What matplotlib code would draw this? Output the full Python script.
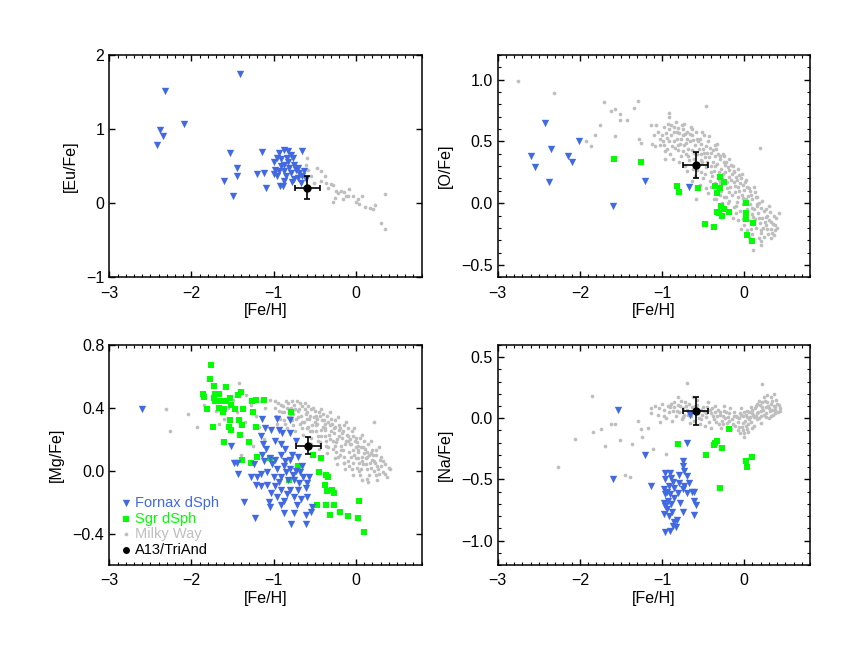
import numpy as np
import matplotlib
matplotlib.use("Agg")
import matplotlib.pyplot as plt
from matplotlib.ticker import MultipleLocator, FuncFormatter

plt.rcParams['font.family'] = ['Liberation Sans', 'DejaVu Sans']

FORNAX_C = '#4169e1'
SGR_C = '#00ff00'
MW_C = '#bebebe'

# ---------------- [Eu/Fe] ----------------
eu_fornax = [(-2.32, 1.51), (-1.41, 1.74), (-2.09, 1.07), (-2.38, 0.99), (-2.35, 0.90),
             (-2.42, 0.79), (-1.53, 0.68), (-1.45, 0.47), (-1.45, 0.36), (-1.60, 0.30),
             (-1.49, 0.10), (-1.14, 0.69), (-1.20, 0.40), (-1.12, 0.41), (-1.09, 0.20),
             (-1.00, 0.55), (-0.93, 0.68), (-0.88, 0.72), (-0.83, 0.70), (-0.79, 0.65),
             (-0.66, 0.70), (-0.98, 0.45), (-0.96, 0.36), (-0.92, 0.23), (-0.89, 0.23),
             (-0.91, 0.50), (-0.87, 0.52), (-0.83, 0.55), (-0.88, 0.43), (-0.85, 0.36),
             (-0.79, 0.41), (-0.75, 0.52), (-0.73, 0.45), (-0.69, 0.41), (-0.71, 0.34),
             (-0.65, 0.36), (-0.61, 0.32), (-0.67, 0.27), (-0.78, 0.28), (-1.00, 0.39),
             (-0.93, 0.43), (-0.81, 0.48), (-0.91, 0.59), (-0.77, 0.61), (-0.96, 0.61),
             (-0.84, 0.61), (-0.71, 0.48), (-0.63, 0.43), (-0.75, 0.32), (-0.87, 0.30)]
eu_mw = [(-0.60, 0.61), (-0.61, 0.52), (-0.58, 0.45), (-0.47, 0.48), (-0.42, 0.43),
         (-0.38, 0.36), (-0.36, 0.27), (-0.30, 0.26), (-0.28, 0.24), (-0.34, 0.20),
         (-0.24, 0.16), (-0.22, 0.14), (-0.18, 0.17), (-0.15, 0.15), (-0.12, 0.09),
         (-0.08, 0.19), (-0.09, 0.10), (-0.04, 0.09), (0.00, 0.01), (0.02, 0.05),
         (0.04, -0.01), (0.07, 0.09), (-0.28, 0.02), (-0.26, 0.07), (-0.16, 0.05),
         (0.11, -0.05), (0.17, -0.07), (0.21, -0.08), (0.23, -0.02), (0.30, -0.27),
         (0.36, -0.35), (0.36, 0.12), (-0.55, 0.36), (-0.51, 0.27), (-0.42, 0.30)]
eu_a13 = (-0.59, 0.21, 0.15, 0.16)

# ---------------- [O/Fe] ----------------
o_fornax = [(-2.59, 0.38), (-2.55, 0.29), (-2.42, 0.65), (-2.35, 0.44), (-2.38, 0.17),
            (-2.14, 0.38), (-2.09, 0.33), (-2.01, 0.50), (-1.21, 0.18), (-1.60, -0.02),
            (-0.67, 0.13)]
o_sgr = [(-1.58, 0.36), (-1.26, 0.33), (-0.82, 0.14), (-0.79, 0.09), (-0.56, 0.12),
         (-0.29, 0.21), (-0.24, 0.17), (-0.36, 0.14), (-0.30, 0.12), (-0.33, 0.08),
         (-0.28, -0.02), (-0.33, -0.07), (-0.31, -0.08), (-0.27, -0.10), (-0.24, -0.05),
         (-0.19, -0.07), (-0.48, -0.17), (-0.37, -0.19), (0.02, 0.00), (0.02, -0.08),
         (0.02, -0.13), (0.11, -0.16), (0.04, -0.26), (0.09, -0.31)]
o_mw = [(-2.75, 0.99), (-2.31, 0.89), (-1.92, 0.50), (-1.86, 0.46), (-1.82, 0.55),
        (-1.75, 0.63), (-1.70, 0.82), (-1.62, 0.75), (-1.57, 0.76), (-1.51, 0.72),
        (-1.51, 0.67), (-1.43, 0.67), (-1.57, 0.54), (-1.34, 0.77), (-1.29, 0.83),
        (-1.28, 0.52), (-1.26, 0.49), (-1.14, 0.63), (-1.12, 0.48), (-1.09, 0.46),
        (-1.02, 0.47), (-0.96, 0.36), (-0.91, 0.73), (-0.91, 0.70), (-0.46, 0.79),
        (0.19, 0.45), (0.42, -0.08), (0.11, -0.38), (0.20, -0.34), (-0.59, 0.03),
        (-1.05, 0.58), (-1.02, 0.52), (-0.98, 0.62), (-0.97, 0.47), (-1.00, 0.55),
        (-0.95, 0.57), (-0.96, 0.42),
        (-0.93, 0.64), (-0.91, 0.60), (-0.89, 0.55), (-0.92, 0.50), (-0.88, 0.46),
        (-0.90, 0.40), (-0.86, 0.62), (-0.87, 0.36), (-0.94, 0.53), (-0.85, 0.58),
        (-0.83, 0.66), (-0.81, 0.61), (-0.79, 0.57), (-0.82, 0.52), (-0.78, 0.48),
        (-0.80, 0.43), (-0.77, 0.38), (-0.84, 0.45), (-0.76, 0.63), (-0.79, 0.33),
        (-0.82, 0.58), (-0.75, 0.55),
        (-0.74, 0.60), (-0.72, 0.56), (-0.70, 0.52), (-0.73, 0.47), (-0.68, 0.44),
        (-0.71, 0.40), (-0.67, 0.35), (-0.69, 0.58), (-0.66, 0.50), (-0.72, 0.30),
        (-0.70, 0.26), (-0.65, 0.62), (-0.74, 0.42),
        (-0.64, 0.55), (-0.62, 0.51), (-0.60, 0.47), (-0.63, 0.43), (-0.58, 0.40),
        (-0.61, 0.36), (-0.57, 0.32), (-0.59, 0.58), (-0.56, 0.50), (-0.62, 0.28),
        (-0.60, 0.22), (-0.55, 0.44), (-0.64, 0.18),
        (-0.54, 0.52), (-0.52, 0.48), (-0.50, 0.44), (-0.53, 0.40), (-0.48, 0.37),
        (-0.51, 0.33), (-0.47, 0.29), (-0.49, 0.55), (-0.46, 0.46), (-0.52, 0.25),
        (-0.50, 0.20), (-0.45, 0.41), (-0.54, 0.15), (-0.47, 0.12),
        (-0.44, 0.50), (-0.42, 0.45), (-0.40, 0.41), (-0.43, 0.37), (-0.38, 0.33),
        (-0.41, 0.30), (-0.37, 0.26), (-0.39, 0.22), (-0.36, 0.47), (-0.42, 0.18),
        (-0.40, 0.13), (-0.35, 0.38), (-0.44, 0.08), (-0.37, 0.03),
        (-0.34, 0.44), (-0.32, 0.40), (-0.30, 0.36), (-0.33, 0.32), (-0.28, 0.28),
        (-0.31, 0.25), (-0.27, 0.21), (-0.29, 0.16), (-0.26, 0.40), (-0.32, 0.12),
        (-0.30, 0.07), (-0.25, 0.33), (-0.34, 0.03), (-0.27, 0.00),
        (-0.24, 0.38), (-0.22, 0.33), (-0.20, 0.29), (-0.23, 0.25), (-0.18, 0.21),
        (-0.21, 0.17), (-0.17, 0.13), (-0.19, 0.09), (-0.16, 0.31), (-0.22, 0.05),
        (-0.20, 0.00), (-0.15, 0.24), (-0.24, -0.04), (-0.17, -0.07), (-0.19, 0.27),
        (-0.14, 0.30), (-0.12, 0.25), (-0.10, 0.21), (-0.13, 0.17), (-0.08, 0.13),
        (-0.11, 0.09), (-0.07, 0.05), (-0.09, 0.01), (-0.06, 0.23), (-0.12, -0.03),
        (-0.10, -0.08), (-0.05, 0.16), (-0.14, -0.12), (-0.07, -0.14), (-0.09, 0.19),
        (-0.04, 0.20), (-0.02, 0.15), (0.00, 0.11), (-0.03, 0.07), (0.02, 0.03),
        (-0.01, -0.01), (0.03, -0.05), (0.01, -0.09), (0.04, 0.13), (-0.02, -0.13),
        (0.00, -0.18), (0.05, 0.06), (-0.04, -0.21), (0.03, -0.22), (0.01, 0.17),
        (0.06, 0.12), (0.08, 0.07), (0.10, 0.03), (0.07, -0.01), (0.12, -0.05),
        (0.09, -0.09), (0.13, -0.13), (0.11, -0.17), (0.14, 0.05), (0.08, -0.21),
        (0.10, -0.25), (0.15, -0.02), (0.06, -0.27), (0.13, 0.09),
        (0.16, 0.05), (0.18, 0.00), (0.20, -0.04), (0.17, -0.08), (0.22, -0.12),
        (0.19, -0.16), (0.23, -0.20), (0.21, -0.24), (0.24, -0.06), (0.18, -0.28),
        (0.20, -0.31), (0.25, -0.15),
        (0.26, -0.05), (0.28, -0.10), (0.30, -0.14), (0.27, -0.18), (0.32, -0.21),
        (0.29, -0.25), (0.33, -0.28), (0.35, -0.17), (0.37, -0.22), (0.31, -0.07),
        (0.39, -0.12), (0.36, -0.26),
        (-0.99, 0.50), (-0.94, 0.44), (-0.89, 0.63), (-0.86, 0.50), (-0.81, 0.47),
        (-0.77, 0.52), (-0.73, 0.64), (-0.71, 0.49), (-0.68, 0.38), (-0.66, 0.56),
        (-0.63, 0.60), (-0.61, 0.41), (-0.58, 0.52), (-0.57, 0.27), (-0.53, 0.35),
        (-0.51, 0.58), (-0.49, 0.41), (-0.48, 0.24), (-0.45, 0.33), (-0.43, 0.54),
        (-0.41, 0.25), (-0.38, 0.43), (-0.36, 0.16), (-0.35, 0.30), (-0.33, 0.48),
        (-0.31, 0.19), (-0.29, 0.38), (-0.28, 0.10), (-0.26, 0.24), (-0.25, 0.05),
        (-0.23, 0.31), (-0.21, 0.12), (-0.19, 0.36), (-0.18, 0.02), (-0.16, 0.19),
        (-0.15, 0.07), (-0.13, 0.26), (-0.11, 0.14), (-0.10, -0.02), (-0.08, 0.28),
        (-0.06, 0.10), (-0.05, -0.06), (-0.03, 0.24), (-0.02, 0.04), (0.00, -0.10),
        (0.02, 0.19), (0.03, 0.00), (0.05, -0.14), (0.07, 0.10), (0.09, -0.04),
        (0.11, -0.11), (0.12, 0.13), (0.14, -0.20), (0.16, -0.01), (0.18, -0.12),
        (0.20, -0.22), (0.22, 0.02), (0.24, -0.27), (0.26, -0.11), (0.28, -0.21),
        (0.30, -0.02), (0.32, -0.15), (0.34, -0.24), (0.36, -0.10), (0.38, -0.18),
        (0.40, -0.20), (-1.07, 0.63), (-1.10, 0.55)]
o_a13 = (-0.59, 0.31, 0.155, 0.105)

# ---------------- [Mg/Fe] ----------------
mg_fornax = [(-2.60, 0.39), (-1.52, 0.16), (-1.48, 0.05), (-1.45, 0.05), (-1.43, -0.02),
             (-1.36, -0.20), (-1.23, -0.30), (-1.14, 0.33), (-0.96, 0.33), (-0.80, 0.32),
             (-1.16, 0.22), (-1.13, 0.17), (-1.03, 0.26), (-0.94, 0.26), (-0.90, 0.24),
             (-0.80, 0.24), (-0.73, 0.19), (-0.70, 0.09), (-0.99, 0.19), (-0.91, 0.17),
             (-1.09, 0.14), (-1.14, 0.10), (-1.05, 0.08), (-0.91, 0.10), (-0.80, 0.07),
             (-0.78, 0.10), (-0.86, 0.06), (-1.02, 0.04), (-0.96, 0.01), (-0.88, 0.03),
             (-0.80, 0.01), (-0.73, 0.00), (-0.68, -0.01), (-0.64, -0.04), (-0.59, -0.08),
             (-1.16, -0.02), (-1.08, -0.01), (-1.00, -0.04), (-0.91, -0.04), (-0.83, -0.06),
             (-0.75, -0.06), (-0.69, -0.08), (-1.22, -0.09), (-1.16, -0.10), (-1.08, -0.09),
             (-0.98, -0.10), (-0.91, -0.12), (-0.80, -0.12), (-0.71, -0.12), (-0.61, -0.11),
             (-1.03, -0.14), (-0.96, -0.17), (-0.87, -0.19), (-0.75, -0.17), (-0.67, -0.18),
             (-0.59, -0.17), (-1.06, -0.20), (-1.04, -0.23), (-0.91, -0.22), (-0.75, -0.27),
             (-0.87, -0.27), (-0.61, -0.28), (-0.55, -0.26), (-0.53, -0.23), (-0.79, -0.34),
             (-0.61, -0.34), (-1.28, -0.04), (-1.20, -0.04), (-1.24, 0.04), (-1.12, 0.06),
             (-0.66, 0.03), (-0.57, -0.04), (-0.94, -0.07), (-0.85, -0.01), (-0.77, -0.03),
             (-0.98, 0.07), (-0.84, -0.15), (-0.72, -0.22), (-1.10, 0.27), (-0.86, 0.14)]
mg_sgr = [(-1.76, 0.67), (-1.78, 0.58), (-1.73, 0.54), (-1.86, 0.49), (-1.85, 0.47),
          (-1.72, 0.49), (-1.73, 0.46), (-1.66, 0.49), (-1.58, 0.53), (-1.71, 0.44),
          (-1.65, 0.44), (-1.58, 0.44), (-1.81, 0.39), (-1.67, 0.40), (-1.61, 0.39),
          (-1.53, 0.46), (-1.52, 0.42), (-1.47, 0.39), (-1.40, 0.50), (-1.44, 0.48),
          (-1.37, 0.39), (-1.62, 0.37), (-1.53, 0.32), (-1.42, 0.32), (-1.38, 0.29),
          (-1.54, 0.28), (-1.52, 0.26), (-1.41, 0.23), (-1.74, 0.28), (-1.61, 0.18),
          (-1.30, 0.18), (-1.39, 0.07), (-1.28, 0.05), (-1.26, 0.44), (-1.22, 0.45),
          (-1.25, 0.37), (-1.22, 0.28), (-1.20, 0.09), (-1.12, 0.45), (-0.79, 0.37),
          (-1.04, 0.08), (-0.71, 0.03), (-0.81, -0.06), (-0.52, 0.10), (-0.43, 0.08),
          (-0.45, -0.01), (-0.36, -0.03), (-0.34, -0.04), (-0.38, -0.09), (-0.35, -0.13),
          (-0.29, -0.12), (-0.27, -0.14), (-0.47, -0.22), (-0.36, -0.22), (-0.27, -0.22),
          (-0.32, -0.28), (-0.19, -0.26), (-0.10, -0.29), (0.02, -0.30), (0.04, -0.19),
          (0.10, -0.39)]
mg_mw = [(-2.31, 0.39), (-2.26, 0.25), (-2.04, 0.36), (-1.93, 0.28), (-1.85, 0.42),
         (-1.70, 0.38), (-1.66, 0.30),
         (-1.28, 0.42), (-1.22, 0.35), (-1.15, 0.44), (-1.10, 0.40), (-1.05, 0.45),
         (-1.18, 0.28), (-1.35, 0.31), (-1.40, 0.10), (-1.45, 0.37), (-1.50, 0.45),
         (-1.55, 0.40), (-1.60, 0.33), (-1.42, 0.56), (-1.34, 0.48), (-1.25, 0.16),
         (-1.12, 0.20),
         (-0.99, 0.40), (-0.97, 0.35), (-0.95, 0.43), (-0.93, 0.38), (-0.96, 0.30),
         (-0.91, 0.42), (-0.92, 0.33),
         (-0.89, 0.41), (-0.87, 0.37), (-0.85, 0.44), (-0.83, 0.34), (-0.86, 0.30),
         (-0.81, 0.39), (-0.84, 0.27), (-0.82, 0.43),
         (-0.79, 0.40), (-0.77, 0.36), (-0.75, 0.42), (-0.73, 0.33), (-0.76, 0.29),
         (-0.71, 0.38), (-0.74, 0.25), (-0.72, 0.44), (-0.78, 0.32),
         (-0.69, 0.39), (-0.67, 0.35), (-0.65, 0.41), (-0.63, 0.31), (-0.66, 0.27),
         (-0.61, 0.36), (-0.64, 0.23), (-0.62, 0.43), (-0.68, 0.30), (-0.60, 0.33),
         (-0.59, 0.37), (-0.57, 0.33), (-0.55, 0.39), (-0.53, 0.29), (-0.56, 0.25),
         (-0.51, 0.34), (-0.54, 0.21), (-0.52, 0.40), (-0.58, 0.28), (-0.50, 0.31),
         (-0.55, 0.17),
         (-0.49, 0.35), (-0.47, 0.30), (-0.45, 0.37), (-0.43, 0.26), (-0.46, 0.22),
         (-0.41, 0.32), (-0.44, 0.18), (-0.42, 0.39), (-0.48, 0.25), (-0.40, 0.28),
         (-0.45, 0.14), (-0.47, 0.33),
         (-0.39, 0.32), (-0.37, 0.27), (-0.35, 0.35), (-0.33, 0.23), (-0.36, 0.19),
         (-0.31, 0.29), (-0.34, 0.15), (-0.32, 0.37), (-0.38, 0.22), (-0.30, 0.25),
         (-0.35, 0.11), (-0.37, 0.30),
         (-0.29, 0.30), (-0.27, 0.24), (-0.25, 0.32), (-0.23, 0.20), (-0.26, 0.16),
         (-0.21, 0.26), (-0.24, 0.12), (-0.22, 0.34), (-0.28, 0.19), (-0.20, 0.22),
         (-0.25, 0.08), (-0.27, 0.27), (-0.23, 0.04),
         (-0.19, 0.27), (-0.17, 0.21), (-0.15, 0.29), (-0.13, 0.17), (-0.16, 0.13),
         (-0.11, 0.23), (-0.14, 0.09), (-0.12, 0.31), (-0.18, 0.16), (-0.10, 0.19),
         (-0.15, 0.05), (-0.17, 0.24), (-0.13, 0.01), (-0.19, 0.10),
         (-0.09, 0.22), (-0.07, 0.17), (-0.05, 0.25), (-0.03, 0.13), (-0.06, 0.09),
         (-0.01, 0.19), (-0.04, 0.05), (-0.02, 0.27), (-0.08, 0.12), (0.00, 0.15),
         (-0.05, 0.01), (-0.07, 0.20), (-0.03, -0.03), (-0.09, 0.06), (0.00, 0.08),
         (0.01, 0.18), (0.03, 0.13), (0.05, 0.21), (0.07, 0.09), (0.04, 0.05),
         (0.09, 0.15), (0.06, 0.01), (0.08, 0.23), (0.02, 0.08), (0.10, 0.11),
         (0.05, -0.03), (0.03, 0.16), (0.07, -0.06), (0.01, 0.02), (0.09, 0.04),
         (0.11, 0.14), (0.13, 0.09), (0.15, 0.17), (0.17, 0.05), (0.14, 0.01),
         (0.19, 0.11), (0.16, -0.03), (0.18, 0.19), (0.12, 0.04), (0.20, 0.07),
         (0.15, -0.07), (0.13, 0.12),
         (0.21, 0.10), (0.23, 0.05), (0.25, 0.13), (0.27, 0.01), (0.24, -0.03),
         (0.29, 0.07), (0.26, -0.06), (0.28, 0.15), (0.22, 0.00), (0.30, 0.03),
         (0.35, -0.02), (0.33, 0.06), (0.40, 0.02), (0.38, -0.04), (0.22, 0.31),
         (-0.98, 0.44), (-0.94, 0.34), (-0.90, 0.37), (-0.88, 0.32), (-0.84, 0.40),
         (-0.80, 0.35), (-0.78, 0.44), (-0.74, 0.39), (-0.70, 0.34), (-0.68, 0.43),
         (-0.66, 0.31), (-0.62, 0.39), (-0.60, 0.27), (-0.58, 0.41), (-0.56, 0.35),
         (-0.53, 0.25), (-0.50, 0.38), (-0.48, 0.29), (-0.46, 0.19), (-0.44, 0.35),
         (-0.42, 0.22), (-0.40, 0.36), (-0.38, 0.26), (-0.36, 0.16), (-0.34, 0.31),
         (-0.32, 0.20), (-0.30, 0.33), (-0.28, 0.14), (-0.26, 0.28), (-0.24, 0.18),
         (-0.22, 0.09), (-0.20, 0.29), (-0.18, 0.13), (-0.16, 0.25), (-0.14, 0.05),
         (-0.12, 0.19), (-0.10, 0.27), (-0.08, 0.03), (-0.06, 0.17), (-0.04, 0.22),
         (-0.02, 0.10), (0.00, 0.21), (0.02, 0.12), (0.04, 0.00), (0.06, 0.15),
         (0.08, 0.06), (0.10, 0.19), (0.12, 0.08), (0.14, -0.05), (0.16, 0.10),
         (0.18, 0.02), (0.20, 0.13), (0.22, 0.06), (0.24, 0.10), (0.26, 0.03),
         (0.28, -0.02), (0.31, 0.09), (0.33, -0.01), (0.36, 0.04), (0.42, 0.01)]
mg_a13 = (-0.58, 0.16, 0.15, 0.055)

# ---------------- [Na/Fe] ----------------
na_fornax = [(-1.53, 0.07), (-0.66, 0.03), (-1.60, -0.50), (-1.21, -0.30), (-1.13, -0.55),
             (-0.70, -0.20), (-0.75, -0.35), (-0.74, -0.39), (-0.73, -0.43), (-0.79, -0.46),
             (-0.70, -0.47), (-0.96, -0.45), (-0.90, -0.45), (-0.89, -0.49), (-0.96, -0.50),
             (-0.79, -0.53), (-0.67, -0.53), (-0.98, -0.58), (-0.92, -0.55), (-0.85, -0.57),
             (-0.75, -0.58), (-0.63, -0.60), (-0.73, -0.55), (-0.96, -0.62), (-0.90, -0.62),
             (-0.81, -0.61), (-0.69, -0.61), (-0.61, -0.60), (-0.98, -0.69), (-0.93, -0.68),
             (-0.96, -0.72), (-0.89, -0.70), (-0.61, -0.68), (-0.59, -0.71), (-0.97, -0.78),
             (-0.88, -0.77), (-0.75, -0.77), (-0.61, -0.79), (-0.91, -0.80), (-0.82, -0.83),
             (-0.85, -0.85), (-0.87, -0.88), (-0.83, -0.89), (-0.96, -0.93), (-0.90, -0.92),
             (-0.94, -0.74), (-0.85, -0.65), (-0.78, -0.69), (-0.94, -0.60), (-0.87, -0.52)]
na_sgr = [(-0.80, -0.21), (-0.47, -0.30), (-0.37, -0.22), (-0.36, -0.20), (-0.33, -0.19),
          (-0.27, -0.24), (-0.19, -0.09), (-0.30, -0.57), (0.02, -0.35), (0.04, -0.40),
          (0.10, -0.32)]
na_mw = [(-2.27, -0.40), (-2.06, -0.17), (-1.85, 0.18), (-1.84, -0.11), (-1.74, -0.09),
         (-1.69, -0.23), (-1.62, -0.05), (-1.57, -0.05), (-1.51, -0.18), (-1.45, -0.46),
         (-1.39, -0.48), (-1.36, -0.21), (-1.29, -0.02), (-1.26, -0.09), (-1.24, -0.15),
         (-1.17, -0.08), (-1.11, -0.25), (-0.95, -0.29), (-1.13, 0.08), (-1.14, 0.04),
         (-0.69, 0.29), (0.22, 0.28),
         (-1.08, 0.10), (-1.05, 0.03), (-1.00, 0.12), (-0.97, 0.07), (-0.93, 0.10),
         (-0.95, 0.00), (-1.02, -0.03), (-0.91, 0.05),
         (-0.89, 0.12), (-0.87, 0.06), (-0.85, 0.09), (-0.83, 0.02), (-0.81, 0.11),
         (-0.79, 0.05), (-0.77, 0.14), (-0.75, 0.08), (-0.73, 0.03), (-0.71, 0.10),
         (-0.88, -0.02), (-0.76, -0.01), (-0.80, 0.17),
         (-0.69, 0.07), (-0.67, 0.12), (-0.65, 0.02), (-0.63, 0.09), (-0.61, -0.02),
         (-0.59, 0.05), (-0.57, 0.11), (-0.55, 0.00), (-0.53, 0.07), (-0.51, 0.03),
         (-0.66, -0.04), (-0.58, 0.15), (-0.54, -0.05), (-0.62, 0.17),
         (-0.49, 0.06), (-0.47, 0.01), (-0.45, 0.09), (-0.43, -0.03), (-0.41, 0.04),
         (-0.39, 0.08), (-0.37, -0.01), (-0.35, 0.05), (-0.33, 0.02), (-0.31, -0.05),
         (-0.48, -0.06), (-0.44, 0.13), (-0.36, 0.10), (-0.40, -0.08), (-0.32, 0.07),
         (-0.29, 0.03), (-0.27, -0.02), (-0.25, 0.06), (-0.23, 0.00), (-0.21, -0.04),
         (-0.19, 0.04), (-0.17, 0.08), (-0.15, -0.01), (-0.13, 0.02), (-0.11, -0.06),
         (-0.28, -0.08), (-0.24, 0.10), (-0.16, -0.09), (-0.20, 0.01), (-0.12, 0.05),
         (-0.26, 0.02),
         (-0.09, 0.01), (-0.07, -0.03), (-0.05, 0.04), (-0.03, -0.07), (-0.01, 0.02),
         (0.01, -0.02), (0.03, 0.06), (0.05, -0.05), (0.07, 0.01), (0.09, 0.04),
         (-0.08, -0.10), (-0.04, 0.08), (0.00, -0.12), (0.04, -0.09), (0.08, 0.09),
         (-0.06, 0.00), (0.02, 0.03), (0.06, -0.01), (-0.02, -0.04),
         (0.11, 0.03), (0.13, 0.08), (0.15, -0.01), (0.17, 0.05), (0.19, 0.11),
         (0.21, 0.02), (0.23, 0.07), (0.25, 0.14), (0.27, 0.04), (0.29, 0.10),
         (0.12, -0.06), (0.16, 0.12), (0.20, -0.04), (0.24, 0.17), (0.28, 0.19),
         (0.14, 0.02), (0.22, 0.09), (0.18, 0.00), (0.26, 0.01),
         (0.31, 0.06), (0.33, 0.12), (0.35, 0.03), (0.37, 0.09), (0.39, 0.15),
         (0.41, 0.05), (0.43, 0.08), (0.32, 0.17), (0.36, 0.20), (0.30, 0.00),
         (0.34, 0.07), (0.38, 0.04), (0.42, 0.11),
         (-1.04, 0.08), (-0.98, 0.02), (-0.90, 0.09), (-0.86, 0.13), (-0.82, 0.06),
         (-0.78, 0.10), (-0.74, 0.01), (-0.72, 0.13), (-0.68, 0.03), (-0.64, 0.06),
         (-0.60, 0.10), (-0.56, 0.04), (-0.52, -0.01), (-0.50, 0.09), (-0.46, 0.04),
         (-0.42, 0.07), (-0.38, 0.02), (-0.34, -0.03), (-0.30, 0.05), (-0.26, -0.05),
         (-0.22, 0.05), (-0.18, -0.02), (-0.14, -0.05), (-0.10, 0.02), (-0.06, -0.07),
         (-0.04, 0.03), (-0.02, -0.10), (0.00, 0.05), (0.02, -0.06), (0.04, 0.01),
         (0.06, 0.05), (0.08, -0.03), (0.10, 0.07), (0.12, 0.01), (0.14, 0.10),
         (0.16, 0.04), (0.18, 0.14), (0.20, 0.06), (0.22, 0.13), (0.24, 0.03),
         (0.26, 0.09), (0.28, 0.13), (0.30, 0.08), (0.32, 0.02), (0.34, 0.14),
         (0.36, 0.10), (0.38, 0.07), (0.40, 0.12), (0.44, 0.06), (0.10, -0.08),
         (0.00, -0.15), (-0.05, -0.12), (0.05, -0.11)]
na_a13 = (-0.59, 0.06, 0.155, 0.115)

panels = [
    ('[Eu/Fe]', eu_fornax, None, eu_mw, eu_a13, (-1, 2), 1.0, None, '{:.0f}'),
    ('[O/Fe]', o_fornax, o_sgr, o_mw, o_a13, (-0.6, 1.2), 0.5, 0.1, '{:.1f}'),
    ('[Mg/Fe]', mg_fornax, mg_sgr, mg_mw, mg_a13, (-0.6, 0.8), 0.4, None, '{:.1f}'),
    ('[Na/Fe]', na_fornax, na_sgr, na_mw, na_a13, (-1.2, 0.6), 0.5, 0.1, '{:.1f}'),
]
axes_pos = [
    [0.1274, 0.5818, 0.364, 0.3353],
    [0.5800, 0.5818, 0.364, 0.3353],
    [0.1274, 0.1478, 0.364, 0.3320],
    [0.5800, 0.1478, 0.364, 0.3320],
]


def minus_fmt(fmt):
    # proper minus sign like the original
    def f(v, pos):
        s = fmt.format(v + 0.0)
        if s.startswith('-') and float(s) == 0:
            s = s[1:]
        return s.replace('-', '\u2212')
    return FuncFormatter(f)


fig = plt.figure(figsize=(8.58, 6.63), dpi=100)

for pos, (ylab, forn, sgr, mw, a13, ylim, ymaj, ymin, fmt) in zip(axes_pos, panels):
    ax = fig.add_axes(pos)
    mw = np.array(mw)
    forn = np.array(forn)
    ax.scatter(mw[:, 0], mw[:, 1], s=7, marker='o', color=MW_C, linewidths=0, zorder=2)
    if sgr is not None:
        sgr = np.array(sgr)
        ax.scatter(sgr[:, 0], sgr[:, 1], s=18, marker='s', color=SGR_C, linewidths=0, zorder=3)
    ax.scatter(forn[:, 0], forn[:, 1], s=28, marker='v', color=FORNAX_C, linewidths=0, zorder=4)
    ax.errorbar(a13[0], a13[1], xerr=a13[2], yerr=a13[3], fmt='o', color='black',
                ms=5, elinewidth=1.2, capsize=2.5, capthick=1.2, zorder=5)

    ax.set_xlim(-3, 0.8)
    ax.set_ylim(*ylim)
    ax.xaxis.set_major_locator(MultipleLocator(1))
    ax.xaxis.set_minor_locator(MultipleLocator(0.1))
    ax.xaxis.set_major_formatter(minus_fmt('{:.0f}'))
    ax.yaxis.set_major_locator(MultipleLocator(ymaj))
    if ymin is not None:
        ax.yaxis.set_minor_locator(MultipleLocator(ymin))
    ax.yaxis.set_major_formatter(minus_fmt(fmt))
    ax.tick_params(which='both', direction='in', top=True, right=True, labelsize=11.5)
    ax.tick_params(which='major', length=4, width=1)
    ax.tick_params(which='minor', length=2, width=0.8)
    for sp in ax.spines.values():
        sp.set_linewidth(1.1)
    ax.tick_params(axis='x', pad=6)
    ax.set_xlabel('[Fe/H]', fontsize=11.5, labelpad=2)
    ax.set_ylabel(ylab, fontsize=11.5, labelpad=6)

    if ylab == '[Mg/Fe]':
        leg = [('Fornax dSph', 'v', FORNAX_C, 28, 0.282),
               ('Sgr dSph', 's', SGR_C, 18, 0.209),
               ('Milky Way', 'o', MW_C, 7, 0.141),
               ('A13/TriAnd', 'o', 'black', 25, 0.068)]
        for txt, mk, col, sz, yy in leg:
            ax.scatter([0.0525], [yy], s=sz, marker=mk, color=col, linewidths=0,
                       transform=ax.transAxes, zorder=6)
            ax.text(0.082, yy, txt, color=col, fontsize=10.5, va='center', ha='left',
                    transform=ax.transAxes)

fig.savefig('out.png', dpi=100)
